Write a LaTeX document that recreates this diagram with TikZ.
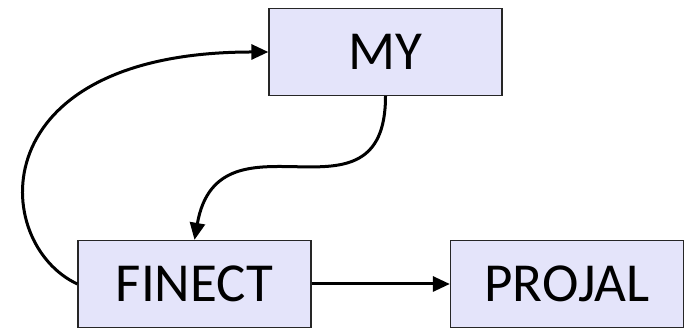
\documentclass[tikz,border=0pt]{standalone}
\usepackage{fontspec}
\setmainfont{Carlito}
\usepackage{xcolor}
\usepackage{tikz}
\usetikzlibrary{positioning,arrows.meta}
\definecolor{boxfill}{RGB}{228,228,250}

\begin{document}
\begin{tikzpicture}[auto,
    box/.style={draw=black!85,line width=1.3pt,fill=boxfill,on grid,
      minimum width=233pt,minimum height=87pt,inner sep=0pt,
      font=\fontsize{55}{60}\selectfont},
    link/.style={line width=3pt,-{Triangle[length=17pt,width=15pt]}}]
    \useasboundingbox (0pt,0pt) rectangle (685pt,328pt);
    \node[box] (MY) at (385.5pt,276pt) {MY};
    \node[box,below left=232pt and 191pt of MY] (FINECT) {FINECT};
    \node[box,right=372.5pt of FINECT] (PROJAL) {PROJAL};
    \draw[link] (FINECT) -- (PROJAL);
    \draw[link] (MY.south) to[out=-90,in=80,looseness=1.5] (FINECT.north);
    \draw[link] (FINECT.west) to[out=155,in=180,out distance=96pt,in distance=289pt] (MY.west);
  \end{tikzpicture}
\end{document}
